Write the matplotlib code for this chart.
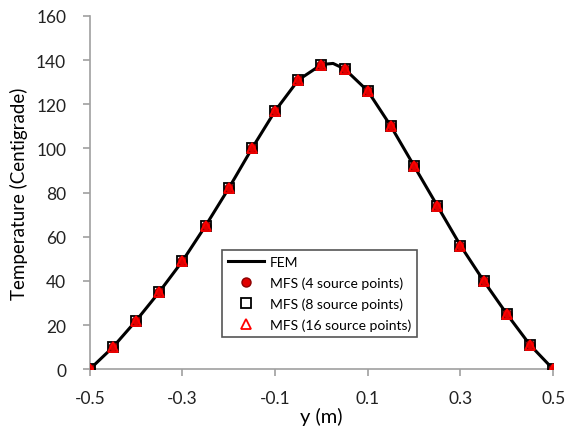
import matplotlib.pyplot as plt

# values
y_pos = [-0.5, -0.45, -0.4, -0.35, -0.3, -0.25, -0.2, -0.15, -0.1, -0.05,
         0.0, 0.05, 0.1, 0.15, 0.2, 0.25, 0.3, 0.35, 0.4, 0.45, 0.5]
temp_mfs = [0, 10, 22, 35, 49, 65, 82, 100, 117, 131,
            138, 136, 126, 110, 92, 74, 56, 40, 25, 11, 0]

fem_y = [-0.5, -0.45, -0.4, -0.35, -0.3, -0.25, -0.2, -0.15, -0.1, -0.05,
         0.0, 0.025, 0.05, 0.1, 0.15, 0.2, 0.25, 0.3, 0.35, 0.4, 0.45, 0.5]
fem_t = [0, 10, 22, 35, 49, 65, 82, 100, 117, 131,
         138, 138.5, 136, 126, 110, 92, 74, 56, 40, 25, 11, 0]

x_ticks = [-0.5, -0.3, -0.1, 0.1, 0.3, 0.5]
x_labels = ["-0.5", "-0.3", "-0.1", "0.1", "0.3", "0.5"]
y_ticks = [0, 20, 40, 60, 80, 100, 120, 140, 160]

plt.rcParams['font.family'] = ['Lato', 'DejaVu Sans']

fig = plt.figure(figsize=(5.65, 4.35), dpi=100)
ax = fig.add_axes([0.159, 0.149, 0.82, 0.812])

ax.plot(fem_y, fem_t, color="black", lw=2.2, label="FEM", zorder=2)
ax.plot(y_pos, temp_mfs, ls="none", marker="o", ms=6.5, mfc="#e00000",
        mec="#8b0000", mew=1, label="MFS (4 source points)", zorder=3)
ax.plot(y_pos, temp_mfs, ls="none", marker="s", ms=7, mfc="none",
        mec="black", mew=1.3, label="MFS (8 source points)", zorder=4)
ax.plot(y_pos, temp_mfs, ls="none", marker="^", ms=6.5, mfc="none",
        mec="#ff0000", mew=1.3, label="MFS (16 source points)", zorder=5)

ax.set_xlim(-0.5, 0.5)
ax.set_ylim(0, 160)
ax.set_xticks(x_ticks)
ax.set_xticklabels(x_labels)
ax.set_yticks(y_ticks)

for side in ("top", "right"):
    ax.spines[side].set_visible(False)
for side in ("left", "bottom"):
    ax.spines[side].set_color("#a0a0a0")
    ax.spines[side].set_linewidth(1.2)
ax.tick_params(direction="out", length=5, color="#a0a0a0", width=1.2,
               labelsize=12.5, labelcolor="#222222")
ax.tick_params(axis="x", pad=10)
ax.tick_params(axis="y", pad=12)

ax.set_xlabel("y (m)", fontsize=14.5, labelpad=1)
ax.set_ylabel("Temperature (Centigrade)", fontsize=13.5, labelpad=6)

leg = ax.legend(loc="lower left", bbox_to_anchor=(0.285, 0.091), fontsize=10,
                fancybox=False, framealpha=1, edgecolor="#555555",
                handlelength=2.6, borderpad=0.45, labelspacing=0.6,
                handletextpad=0.4, borderaxespad=0)
leg.get_frame().set_linewidth(1.2)

fig.savefig("out.png", dpi=100)
